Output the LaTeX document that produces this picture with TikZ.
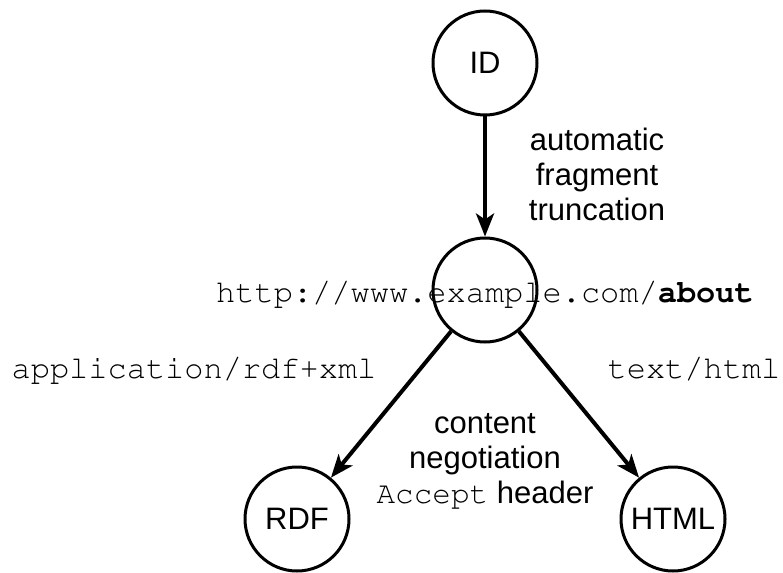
\documentclass[tikz,border=0pt]{standalone}
\usepackage[T1,TU]{fontenc}
\usepackage{fontspec}
\setmainfont{Liberation Sans}
\usetikzlibrary{arrows.meta}
\newcommand{\cour}{\fontencoding{T1}\fontfamily{pcr}\selectfont}

\begin{document}
\begin{tikzpicture}[x=1pt, y=-1pt,
    bubble/.style={circle, draw, line width=3pt, minimum size=104pt, inner sep=0pt, font=\fontsize{31}{35}\selectfont},
    conn/.style={line width=4pt, -{Stealth[length=23pt, width=18pt, inset=6pt]}},
    note/.style={align=center, font=\fontsize{31}{35}\selectfont},
    mime/.style={anchor=base, inner sep=0pt, font=\fontsize{32}{35}\cour}]
    \useasboundingbox (0,0) rectangle (783,572);
    % the resources
    \node[bubble] (id) at (485,63) {ID};
    \node[bubble] (url) at (485,290) {};
    \node[bubble] (rdf) at (297,519) {RDF};
    \node[bubble] (html) at (673,519) {HTML};
    % requests
    \draw[conn] (id) -- (url);
    \draw[conn] (url) -- (rdf);
    \draw[conn] (url) -- (html);
    % labels
    \node[mime] (uri) at (485,302) {http://www.example.com/\textbf{about}};
    \node[mime] (rdfmime) at (194,378) {application/rdf+xml};
    \node[mime] (htmlmime) at (694,378) {text/html};
    \node[note] (trunc) at (597,174) {automatic\\fragment\\truncation};
    \node[note] (conneg) at (485,461) {content\\negotiation\\{\cour Accept} header};
\end{tikzpicture}
\end{document}
